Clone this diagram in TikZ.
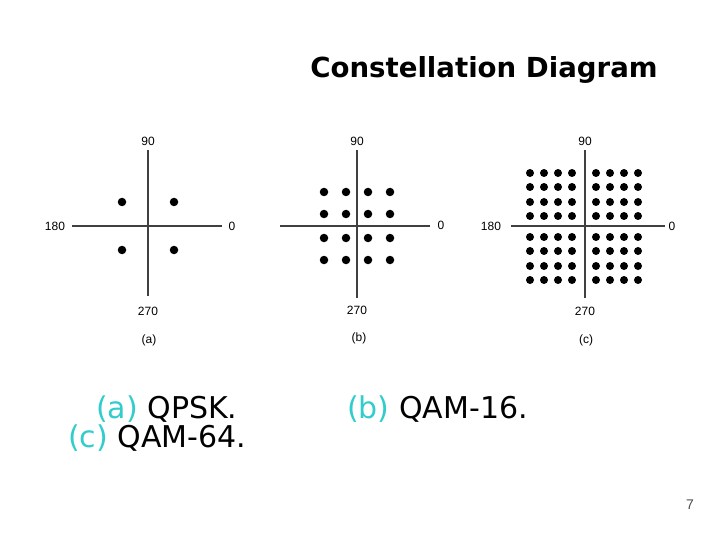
\documentclass[tikz,border=0pt]{standalone}
\usepackage{fontspec}
\setmainfont{Liberation Sans}
\newfontfamily\vfont{DejaVu Sans}
\definecolor{tq}{HTML}{33CCCC}
\begin{document}
\begin{tikzpicture}[x=1pt,y=-1pt,
  ax/.style={line width=1.2pt,black!75},
  dot/.style={circle,fill=black,inner sep=0pt,minimum size=8.5pt},
  lbl/.style={font=\fontsize{12}{14}\selectfont,inner sep=0pt},
  big/.style={font=\vfont\fontsize{30}{36}\selectfont,inner sep=0pt,anchor=west}]
\useasboundingbox (0,0) rectangle (720,540);
\node[font=\vfont\bfseries\fontsize{27.6}{32}\selectfont,inner sep=0pt] (title) at (484,70) {Constellation Diagram};
% (a)
\coordinate (aL) at (72,226); \coordinate (aR) at (222,226);
\coordinate (aT) at (148,150); \coordinate (aB) at (148,296);
\draw[ax] (aL) -- (aR); \draw[ax] (aT) -- (aB);
\foreach \x in {122,174} \foreach \y in {202,250} \node[dot] at (\x,\y) {};
\node[lbl] (a90) at (148,141) {90}; \node[lbl] (a270) at (148,311) {270};
\node[lbl] (a180) at (55,226) {180}; \node[lbl] (a0) at (232,226) {0};
\node[lbl] (acap) at (149,340) {(a)};
% (b)
\coordinate (bL) at (280,226); \coordinate (bR) at (430,226);
\coordinate (bT) at (357,150); \coordinate (bB) at (357,298);
\draw[ax] (bL) -- (bR); \draw[ax] (bT) -- (bB);
\foreach \x in {324,346,368,390} \foreach \y in {192,214,238,260} \node[dot] at (\x,\y) {};
\node[lbl] (b90) at (357,141) {90}; \node[lbl] (b270) at (357,310) {270};
\node[lbl] (b0) at (441,225) {0};
\node[lbl] (bcap) at (359,338) {(b)};
% (c)
\coordinate (cL) at (511,226); \coordinate (cR) at (665,226);
\coordinate (cT) at (585,150); \coordinate (cB) at (585,298);
\draw[ax] (cL) -- (cR); \draw[ax] (cT) -- (cB);
\foreach \x in {530,544,558,572,596,610,624,638} \foreach \y in {173,187,202,216,237,251,266,280} \node[dot,minimum size=8pt] at (\x,\y) {};
\node[lbl] (c90) at (585,141) {90}; \node[lbl] (c270) at (585,311) {270};
\node[lbl] (c180) at (491,226) {180}; \node[lbl] (c0) at (672,226) {0};
\node[lbl] (ccap) at (586,340) {(c)};
% bottom text
\node[big] (ta) at (96,409) {\textcolor{tq}{(a)} QPSK.};
\node[big] (tc) at (68,438) {\textcolor{tq}{(c)} QAM-64.};
\node[big] (tb) at (347,409) {\textcolor{tq}{(b)} QAM-16.};
\node[font=\fontsize{14}{16}\selectfont,text=black!70] (pg) at (690,505) {7};
\end{tikzpicture}
\end{document}
